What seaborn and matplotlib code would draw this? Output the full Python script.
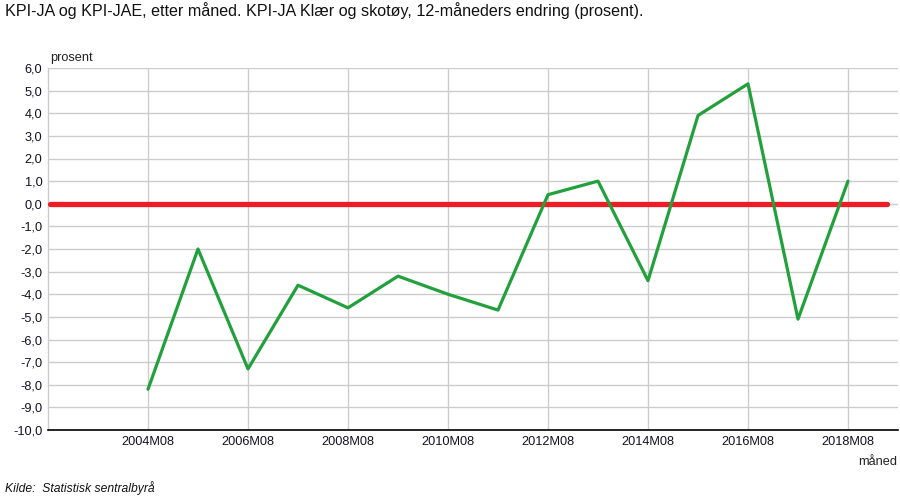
import matplotlib
matplotlib.use("Agg")
import matplotlib.pyplot as plt
import seaborn as sns
import pandas as pd
import numpy as np

periods = ["2004M08", "2005M08", "2006M08", "2007M08", "2008M08", "2009M08",
           "2010M08", "2011M08", "2012M08", "2013M08", "2014M08", "2015M08",
           "2016M08", "2017M08", "2018M08"]
values = [-8.2, -2.0, -7.3, -3.6, -4.6, -3.2, -4.0, -4.7, 0.4, 1.0, -3.4, 3.9,
          5.3, -5.1, 1.0]
tick_labels = ["2004M08", "2006M08", "2008M08", "2010M08", "2012M08",
               "2014M08", "2016M08", "2018M08"]
y_ticks = [6, 5, 4, 3, 2, 1, 0, -1, -2, -3, -4, -5, -6, -7, -8, -9, -10]
reference_value = 0.0

title = "KPI-JA og KPI-JAE, etter måned. KPI-JA Klær og skotøy, 12-måneders endring (prosent)."


def to_num(p):
    return int(p[:4]) + (int(p[5:]) - 1) / 12.0


sns.set_theme(style="white")
plt.rcParams["font.family"] = ["Liberation Sans", "DejaVu Sans"]

df = pd.DataFrame({"t": [to_num(p) for p in periods], "v": values})

fig = plt.figure(figsize=(9, 5), dpi=100)
ax = fig.add_axes([48 / 900, 1 - 430 / 500, 850 / 900, 362 / 500])

first = to_num(periods[0])
last = to_num(periods[-1])
ax.set_xlim(first - 2, last + 1)
ax.set_ylim(-10, 6)

ax.set_yticks(y_ticks)
ax.set_yticklabels([f"{v:.1f}".replace(".", ",") for v in y_ticks], fontsize=9.2, color="#111122")
ax.set_xticks([to_num(t) for t in tick_labels])
ax.set_xticklabels(tick_labels, fontsize=9.2, color="#111122")
ax.tick_params(axis="both", length=0, pad=4)

ax.grid(True, color="#cccccc", linewidth=1.0)
ax.set_axisbelow(True)
for s in ["top", "right"]:
    ax.spines[s].set_visible(False)
ax.spines["left"].set_color("#cccccc")
ax.spines["left"].set_linewidth(1.0)
ax.spines["bottom"].set_color("black")
ax.spines["bottom"].set_linewidth(1.2)

ax.axhline(reference_value, xmin=2 / 850, xmax=839 / 850, color="#ee1c25",
           linewidth=3.8, solid_capstyle="round", zorder=3)

sns.lineplot(data=df, x="t", y="v", ax=ax, color="#22a03c", linewidth=2.3, zorder=4)
ax.set_xlabel("")
ax.set_ylabel("")

fig.text(5 / 900, 1 - 2 / 500, title, ha="left", va="top", fontsize=11.6, color="#111111")
fig.text(50 / 900, 1 - 58 / 500, "prosent", ha="left", va="center", fontsize=9.2, color="#222222")
fig.text(897 / 900, 1 - 462 / 500, "måned", ha="right", va="center", fontsize=9.2, color="#222222")
fig.text(5 / 900, 1 - 488 / 500, "Kilde:  Statistisk sentralbyrå", ha="left", va="center",
         fontsize=8.7, style="italic", color="#111111")

fig.savefig("out.png", dpi=100)
